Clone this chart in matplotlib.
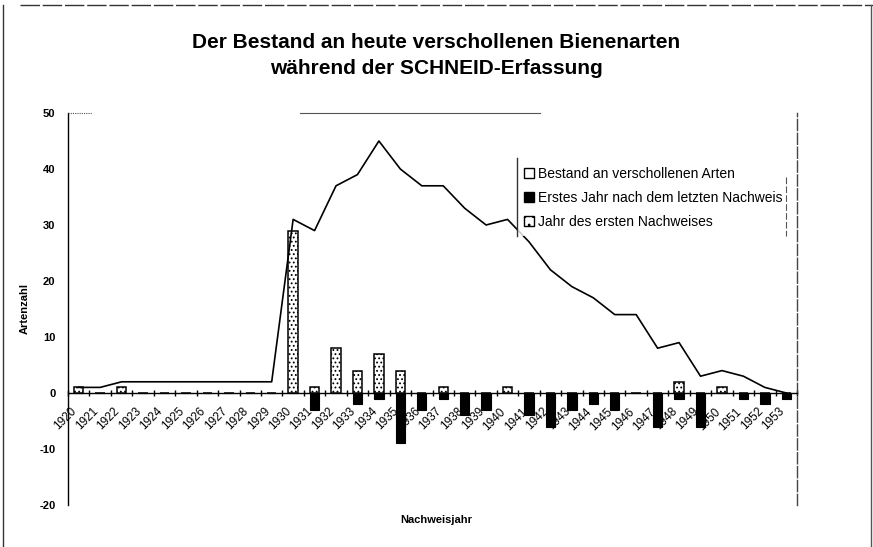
import matplotlib
matplotlib.use("Agg")
import matplotlib.pyplot as plt
import matplotlib.transforms as mtransforms
from matplotlib.patches import Patch
from matplotlib.lines import Line2D

plt.rcParams['font.family'] = ['Liberation Sans', 'DejaVu Sans']
plt.rcParams['axes.unicode_minus'] = False
plt.rcParams['hatch.linewidth'] = 0.8

years = [str(y) for y in range(1920, 1954)]
bestand = [1, 1, 2, 2, 2, 2, 2, 2, 2, 2,
           31, 29, 37, 39, 45, 40, 37, 37, 33, 30,
           31, 27, 22, 19, 17, 14, 14, 8, 9, 3,
           4, 3, 1, 0]
erstes_jahr_nach_letztem = [0, 0, 0, 0, 0, 0, 0, 0, 0, 0,
                            0, -3, 0, -2, -1, -9, -3, -1, -4, -3,
                            0, -4, -6, -3, -2, -3, 0, -6, -1, -6,
                            0, -1, -2, -1]
jahr_erster_nachweis = [1, 0, 1, 0, 0, 0, 0, 0, 0, 0,
                        29, 1, 8, 4, 7, 4, 0, 1, 0, 0,
                        1, 0, 0, 0, 0, 0, 0, 0, 2, 0,
                        1, 0, 0, 0]
yticks = [-20, -10, 0, 10, 20, 30, 40, 50]
ytick_labels = ['-20', '-10', '0', '10', '20', '30', '40', '50']
legend_labels = ['Bestand an verschollenen Arten',
                 'Erstes Jahr nach dem letzten Nachweis',
                 'Jahr des ersten Nachweises']

W, H = 873, 547
fig = plt.figure(figsize=(W / 100, H / 100), dpi=100)
ax = fig.add_axes([68 / W, 1 - 505 / H, (797 - 68) / W, (505 - 113) / H])

x = list(range(len(years)))
bw = 0.44
ax.bar(x, erstes_jahr_nach_letztem, width=bw, color='black', edgecolor='black',
       linewidth=0.8, zorder=3)
ax.bar(x, jahr_erster_nachweis, width=bw, color='white', edgecolor='black',
       linewidth=1.1, hatch='....', zorder=3)
ax.plot(x, bestand, color='black', linewidth=1.2, zorder=4)

ax.set_xlim(-0.5, len(years) - 0.5)
ax.set_ylim(-20, 50)

ax.spines['top'].set_visible(False)
ax.spines['right'].set_linestyle((0, (8, 2)))
ax.spines['right'].set_linewidth(1.0)
ax.spines['right'].set_color('#444444')
ax.spines['bottom'].set_position(('data', 0))
ax.spines['left'].set_linewidth(1.0)
ax.spines['bottom'].set_linewidth(1.0)

ax.set_xticks([i - 0.5 for i in range(len(years) + 1)])
ax.set_xticklabels([])
ax.tick_params(axis='x', which='major', direction='inout', length=5, width=1.0)
ax.set_xticks(x, minor=True)
ax.set_xticklabels(years, minor=True, fontsize=8.5)
ax.tick_params(axis='x', which='minor', length=0, pad=9)
offset = mtransforms.ScaledTranslation(-8 / 100, 0, fig.dpi_scale_trans)
for lab in ax.get_xticklabels(minor=True):
    lab.set_rotation(45)
    lab.set_rotation_mode('anchor')
    lab.set_ha('right')
    lab.set_va('top')
    lab.set_transform(lab.get_transform() + offset)

ax.set_yticks(yticks)
ax.set_yticklabels(ytick_labels, fontsize=8, fontweight='bold')
ax.tick_params(axis='y', length=0, pad=9)

ax.set_ylabel('Artenzahl', fontsize=8, fontweight='bold', labelpad=7)
fig.text(436 / W, 1 - 520 / H, 'Nachweisjahr', ha='center', va='center',
         fontsize=8, fontweight='bold')

fig.text(436 / W, 1 - 42 / H, 'Der Bestand an heute verschollenen Bienenarten',
         ha='center', va='center', fontsize=15, fontweight='bold')
fig.text(436 / W, 1 - 68 / H, 'während der SCHNEID-Erfassung',
         ha='center', va='center', fontsize=15, fontweight='bold')

handles = [Patch(facecolor='white', edgecolor='black', linewidth=1.0),
           Patch(facecolor='black', edgecolor='black'),
           Patch(facecolor='white', edgecolor='black', hatch='..', linewidth=1.0)]
leg = ax.legend(handles, legend_labels, loc='upper left',
                bbox_to_anchor=(517 / W, 1 - 160 / H), bbox_transform=fig.transFigure,
                fontsize=10, frameon=True, fancybox=False, handlelength=0.75,
                handleheight=0.75, handletextpad=0.25, labelspacing=0.72,
                borderpad=0.5, borderaxespad=0)
leg.get_frame().set_edgecolor('none')
leg.get_frame().set_facecolor('white')
leg.set_zorder(5)

# legend side lines
fig.add_artist(Line2D([517 / W, 517 / W], [1 - 158 / H, 1 - 236 / H],
                      color='#333333', linewidth=1.0))
fig.add_artist(Line2D([786 / W, 786 / W], [1 - 177 / H, 1 - 236 / H],
                      color='#555555', linewidth=0.8, linestyle=(0, (6, 2))))

# chart area border
fig.add_artist(Line2D([3 / W, 3 / W], [0, 1 - 5 / H], color='#333333', linewidth=1.0))
fig.add_artist(Line2D([20 / W, 1], [1 - 5 / H, 1 - 5 / H], color='#333333',
                      linewidth=1.0, linestyle=(0, (14, 2))))
fig.add_artist(Line2D([871 / W, 871 / W], [0, 1 - 5 / H], color='#555555', linewidth=1.0))
# faded plot area border fragments
fig.add_artist(Line2D([300 / W, 540 / W], [1 - 113 / H, 1 - 113 / H], color='#555555',
                      linewidth=0.8))
fig.add_artist(Line2D([68 / W, 92 / W], [1 - 113 / H, 1 - 113 / H], color='#555555',
                      linewidth=0.8, linestyle=(0, (1, 1))))

fig.savefig('out.png', dpi=100)
